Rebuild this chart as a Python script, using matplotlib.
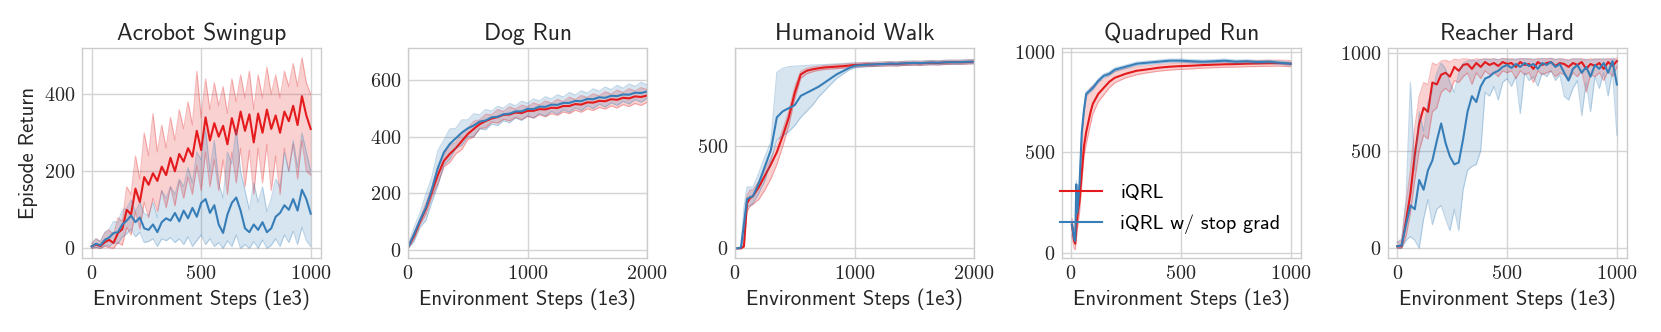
import matplotlib
matplotlib.use("Agg")
import matplotlib.pyplot as plt
import numpy as np

plt.rcParams['font.family'] = 'cmss10'
plt.rcParams['mathtext.fontset'] = 'cm'
plt.rcParams['axes.unicode_minus'] = False

RED = '#e41a1c'
BLUE = '#377eb8'
LABELS = ['iQRL', 'iQRL w/ stop grad']

# ---------------- Acrobot Swingup ----------------
acro_steps = list(range(0, 1001, 20))
acro_red = [5, 10, 6, 16, 22, 14, 40, 50, 100, 88, 155, 120, 185, 165, 195, 175, 212, 190, 235, 200,
            245, 225, 260, 238, 305, 255, 340, 280, 325, 290, 318, 270, 338, 295, 355, 305, 348, 275,
            350, 300, 360, 310, 345, 300, 355, 330, 370, 320, 395, 345, 310]
acro_red_lo = [0, 2, 0, 5, 2, 0, 15, 8, 55, 35, 95, 50, 120, 80, 130, 95, 150, 105, 160, 110,
               175, 130, 185, 140, 215, 150, 250, 160, 230, 150, 230, 140, 250, 170, 260, 160, 255, 140,
               260, 170, 270, 150, 240, 140, 260, 200, 270, 180, 280, 200, 190]
acro_red_hi = [12, 25, 18, 40, 48, 35, 80, 70, 160, 140, 240, 180, 300, 240, 350, 250, 320, 260, 340, 280,
               360, 310, 380, 320, 460, 340, 440, 360, 430, 370, 420, 350, 440, 380, 450, 390, 460, 360,
               450, 390, 470, 400, 450, 390, 460, 420, 480, 420, 495, 430, 400]
acro_blue = [5, 12, 8, 22, 28, 40, 42, 62, 72, 85, 68, 80, 52, 48, 62, 42, 68, 78, 72, 92,
             70, 98, 78, 105, 82, 118, 128, 92, 112, 62, 40, 88, 118, 132, 98, 52, 42, 62, 48, 68,
             42, 52, 82, 92, 112, 100, 128, 98, 152, 128, 90]
acro_blue_lo = [0, 3, 0, 8, 5, 15, 12, 30, 38, 50, 30, 42, 15, 18, 25, 5, 25, 20, 28, 15,
                25, 10, 30, 5, 20, 35, 10, 25, 5, 15, 0, 20, 5, 35, 0, 10, 0, 18, 0, 22,
                0, 8, 25, 5, 35, 15, 45, 10, 55, 20, 5]
acro_blue_hi = [12, 25, 18, 42, 50, 70, 68, 100, 105, 125, 95, 120, 90, 85, 120, 80, 150, 130, 160, 140,
                180, 160, 210, 170, 250, 230, 310, 200, 280, 170, 130, 250, 220, 310, 200, 150, 100, 170, 120, 160,
                95, 130, 180, 160, 250, 200, 280, 210, 300, 250, 200]

# ---------------- Dog Run ----------------
dog_steps = list(range(0, 2001, 50))
dog_red = [10, 50, 100, 146, 205, 265, 315, 340, 360, 385, 410, 428, 445, 456, 465, 470, 478, 479, 486, 484,
           492, 492, 498, 497, 503, 502, 509, 509, 516, 514, 522, 521, 527, 526, 533, 531, 538, 536, 543, 541, 546]
dog_red_lo = [5, 38, 90, 126, 188, 235, 294, 310, 340, 355, 390, 400, 430, 432, 452, 449, 462, 457, 469, 461,
              472, 467, 478, 471, 482, 476, 488, 482, 494, 487, 499, 493, 504, 498, 509, 502, 514, 507, 518, 511, 522]
dog_red_hi = [15, 62, 110, 166, 222, 295, 336, 370, 380, 415, 430, 455, 460, 480, 478, 496, 490, 506, 498, 512,
              506, 520, 513, 527, 519, 532, 525, 540, 532, 546, 539, 552, 545, 559, 551, 565, 557, 570, 562, 574, 567]
dog_blue = [10, 55, 105, 150, 215, 290, 345, 375, 395, 415, 430, 440, 454, 458, 469, 471, 480, 482, 490, 490,
            499, 498, 507, 506, 514, 513, 520, 520, 527, 526, 534, 533, 540, 538, 545, 544, 550, 549, 556, 555, 560]
dog_blue_lo = [5, 30, 80, 105, 170, 228, 300, 322, 360, 370, 400, 402, 428, 425, 445, 440, 457, 450, 467, 458,
               475, 466, 483, 473, 490, 480, 496, 487, 503, 493, 510, 500, 516, 505, 521, 511, 526, 516, 532, 522, 537]
dog_blue_hi = [15, 80, 130, 198, 258, 352, 388, 428, 430, 460, 460, 482, 478, 497, 491, 508, 501, 518, 510, 526,
               519, 534, 527, 542, 534, 549, 541, 557, 548, 563, 555, 570, 561, 576, 567, 582, 572, 587, 578, 593, 584]

# ---------------- Humanoid Walk ----------------
hum_steps = [0, 25, 50, 75, 100, 125, 150] + list(range(200, 2001, 50))
hum_red = [0, 0, 0, 10, 220, 245, 255, 300, 355, 410, 470, 550, 640, 760, 850, 868, 875, 880, 884, 886, 888,
           890, 893, 896, 897, 899, 898, 900, 901, 902, 901, 903, 904, 905, 904, 906, 907, 906, 908, 909, 910, 909, 911, 912]
hum_red_lo = [0, 0, 0, 5, 180, 205, 215, 240, 285, 340, 410, 500, 600, 730, 830, 853, 863, 870, 874, 876, 878,
              880, 883, 886, 887, 889, 888, 890, 891, 892, 891, 893, 894, 895, 894, 896, 897, 896, 898, 899, 900, 899, 901, 902]
hum_red_hi = [0, 0, 0, 30, 260, 285, 285, 330, 385, 440, 500, 580, 670, 790, 865, 880, 887, 890, 894, 896, 898,
              900, 903, 906, 907, 909, 908, 910, 911, 912, 911, 913, 914, 915, 914, 916, 917, 916, 918, 919, 920, 919, 921, 922]
hum_blue = [0, 0, 5, 120, 240, 250, 255, 320, 400, 480, 640, 670, 685, 700, 745, 760, 775, 790, 810, 830, 850,
            865, 880, 892, 895, 897, 899, 900, 901, 903, 902, 904, 905, 906, 905, 907, 908, 907, 909, 910, 909, 911, 912, 912]
hum_blue_lo = [0, 0, 0, 60, 200, 210, 220, 270, 330, 430, 530, 550, 570, 600, 640, 670, 700, 740, 770, 800, 830,
               850, 870, 882, 885, 887, 889, 890, 891, 893, 892, 894, 895, 896, 895, 897, 898, 897, 899, 900, 899, 901, 902, 902]
hum_blue_hi = [0, 0, 10, 200, 300, 300, 300, 370, 450, 520, 860, 880, 888, 890, 892, 894, 896, 897, 898, 900, 902,
               903, 905, 906, 906, 907, 909, 910, 911, 913, 912, 914, 915, 916, 915, 917, 918, 917, 919, 920, 919, 921, 922, 922]

# ---------------- Quadruped Run ----------------
quad_steps = [5, 10, 15, 20, 25, 30, 40, 50, 60, 70, 80, 90, 100, 125, 150, 175, 200] + list(range(250, 1001, 50))
quad_red = [140, 100, 60, 45, 120, 180, 260, 400, 530, 600, 650, 700, 740, 790, 820, 850, 870,
            890, 905, 912, 920, 925, 928, 930, 933, 935, 937, 938, 940, 941, 942, 943, 940]
quad_red_lo = [90, 50, 20, 15, 60, 120, 200, 340, 480, 540, 590, 640, 690, 750, 785, 820, 845,
               870, 885, 895, 903, 908, 912, 914, 918, 920, 922, 923, 925, 926, 927, 928, 925]
quad_red_hi = [170, 140, 120, 105, 200, 240, 340, 520, 680, 760, 800, 820, 830, 850, 860, 885, 900,
               915, 925, 930, 936, 940, 943, 945, 948, 950, 952, 953, 955, 956, 957, 958, 955]
quad_blue = [140, 110, 70, 60, 340, 200, 350, 600, 710, 790, 800, 810, 820, 855, 880, 890, 910,
             925, 940, 945, 950, 955, 955, 952, 950, 952, 955, 950, 952, 948, 950, 945, 940]
quad_blue_lo = [130, 100, 60, 50, 320, 185, 335, 585, 698, 780, 790, 800, 810, 846, 871, 881, 901,
                917, 932, 937, 942, 947, 947, 944, 942, 944, 947, 942, 944, 940, 942, 937, 932]
quad_blue_hi = [150, 120, 80, 70, 360, 215, 365, 615, 722, 800, 810, 820, 830, 864, 889, 899, 919,
                933, 948, 953, 958, 963, 963, 960, 958, 960, 963, 958, 960, 956, 958, 953, 948]

# ---------------- Reacher Hard ----------------
reach_steps = list(range(0, 1001, 20))
reach_red = [10, 10, 140, 280, 480, 640, 720, 700, 850, 840, 890, 900, 880, 930, 910, 940, 945, 920, 950, 930,
             955, 940, 950, 935, 955, 945, 950, 930, 955, 940, 945, 920, 955, 940, 950, 955, 935, 950, 945, 930,
             950, 940, 955, 920, 945, 935, 950, 920, 955, 935, 960]
reach_red_lo = [0, 0, 60, 180, 350, 500, 580, 560, 700, 720, 800, 820, 800, 860, 850, 880, 900, 840, 900, 870,
                910, 890, 900, 880, 910, 900, 910, 870, 910, 890, 900, 850, 910, 890, 900, 910, 880, 900, 890, 860,
                900, 880, 910, 800, 890, 880, 900, 860, 910, 880, 930]
reach_red_hi = [30, 40, 230, 400, 620, 780, 850, 840, 950, 940, 960, 965, 955, 970, 965, 972, 970, 965, 972, 968,
                972, 970, 972, 968, 974, 970, 972, 966, 974, 970, 972, 965, 974, 970, 972, 974, 968, 972, 970, 966,
                972, 970, 974, 965, 972, 968, 972, 966, 974, 968, 976]
reach_blue = [10, 15, 120, 220, 200, 350, 300, 400, 450, 550, 640, 540, 470, 430, 440, 560, 700, 780, 750, 830,
              870, 880, 900, 910, 930, 940, 925, 945, 930, 950, 935, 945, 920, 950, 940, 955, 930, 945, 900, 860,
              920, 940, 900, 930, 880, 940, 920, 950, 900, 960, 840]
reach_blue_lo = [0, 0, 40, 60, 40, 0, 150, 250, 120, 200, 220, 150, 90, 200, 90, 300, 400, 420, 430, 500,
                 800, 780, 830, 760, 850, 870, 830, 880, 690, 900, 860, 880, 830, 900, 880, 910, 860, 890, 780, 760,
                 820, 860, 680, 850, 700, 880, 820, 900, 780, 910, 580]
reach_blue_hi = [30, 50, 250, 850, 400, 700, 600, 750, 800, 900, 950, 920, 850, 800, 900, 950, 960, 965, 960, 968,
                 970, 968, 970, 966, 972, 970, 968, 972, 970, 974, 970, 972, 968, 974, 970, 974, 968, 972, 966, 964,
                 970, 972, 966, 970, 964, 972, 968, 974, 966, 976, 962]

panels = [
    ('Acrobot Swingup', acro_steps, (acro_red, acro_red_lo, acro_red_hi), (acro_blue, acro_blue_lo, acro_blue_hi),
     (-44, 1047), (-25, 520), [0, 500, 1000], [0, 200, 400]),
    ('Dog Run', dog_steps, (dog_red, dog_red_lo, dog_red_hi), (dog_blue, dog_blue_lo, dog_blue_hi),
     (0, 2000), (-28, 714), [0, 1000, 2000], [0, 200, 400, 600]),
    ('Humanoid Walk', hum_steps, (hum_red, hum_red_lo, hum_red_hi), (hum_blue, hum_blue_lo, hum_blue_hi),
     (0, 2000), (-47, 979), [0, 1000, 2000], [0, 500]),
    ('Quadruped Run', quad_steps, (quad_red, quad_red_lo, quad_red_hi), (quad_blue, quad_blue_lo, quad_blue_hi),
     (-40, 1047), (-26, 1018), [0, 500, 1000], [0, 500, 1000]),
    ('Reacher Hard', reach_steps, (reach_red, reach_red_lo, reach_red_hi), (reach_blue, reach_blue_lo, reach_blue_hi),
     (-42, 1046), (-50, 1027), [0, 500, 1000], [0, 500, 1000]),
]

fig = plt.figure(figsize=(16.61, 3.32), dpi=100)
lefts = [82, 408, 735, 1062, 1388]

for i, (title, steps, red, blue, xlim, ylim, xt, yt) in enumerate(panels):
    ax = fig.add_axes([lefts[i] / 1661, 74 / 332, 239 / 1661, 210 / 332])
    ax.grid(True, color='#d4d4d4', lw=1.0)
    ax.set_axisbelow(True)
    for sp in ax.spines.values():
        sp.set_color('#cccccc')
        sp.set_linewidth(1.0)
    for (m, lo, hi), c, lab in [(red, RED, LABELS[0]), (blue, BLUE, LABELS[1])]:
        ax.fill_between(steps, lo, hi, color=c, alpha=0.2, lw=0)
        ax.plot(steps, lo, color=c, alpha=0.3, lw=0.8)
        ax.plot(steps, hi, color=c, alpha=0.3, lw=0.8)
        ax.plot(steps, m, color=c, lw=1.5, label=lab)
    ax.set_xlim(*xlim)
    ax.set_ylim(*ylim)
    ax.set_xticks(xt, ['$%d$' % v for v in xt])
    ax.set_yticks(yt, ['$%d$' % v for v in yt])
    ax.tick_params(length=0, labelsize=14.5, labelcolor='0.15', pad=5)
    ax.set_title(title, fontsize=17, color='0.15', pad=6)
    ax.set_xlabel('Environment Steps (1e3)', fontsize=15, color='0.15')
    if i == 0:
        ax.set_ylabel('Episode Return', fontsize=15, color='0.15')
    if i == 3:
        ax.legend(loc='lower left', bbox_to_anchor=(-0.085, 0.03), frameon=False, fontsize=14.5,
                  handlelength=2.1, handletextpad=0.9, labelspacing=0.6)

fig.savefig('out.png', dpi=100)
